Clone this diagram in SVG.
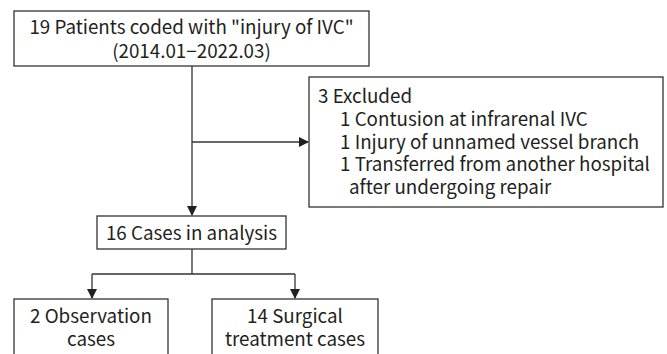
<svg xmlns="http://www.w3.org/2000/svg" width="667" height="354" viewBox="0 0 667 354">
<defs>
<style>
.box{fill:#fff;stroke:#333;stroke-width:1.3}
.ln{fill:none;stroke:#333;stroke-width:1.3}
text{font-family:"Noto Sans CJK KR","Noto Sans",sans-serif;font-size:18.8px;fill:#231f20}
.c{text-anchor:middle}
</style>
<marker id="ah" markerWidth="10" markerHeight="10" refX="9" refY="5" orient="auto" markerUnits="userSpaceOnUse">
<path d="M0,0 L10,5 L0,10 Z" fill="#231f20"/>
</marker>
</defs>
<rect width="667" height="354" fill="#fff"/>
<g id="connectors">
<path class="ln" d="M192,66 V215" marker-end="url(#ah)"/>
<path class="ln" d="M192,142 H308" marker-end="url(#ah)"/>
<path class="ln" d="M192,249 V274 M92,274 H295"/>
<path class="ln" d="M92,274 V298" marker-end="url(#ah)"/>
<path class="ln" d="M295,274 V298" marker-end="url(#ah)"/>
</g>
<g id="n1">
<rect class="box" x="14" y="11" width="355" height="55"/>
<text class="c" x="191.5" y="34">19 Patients coded with "injury of IVC"</text>
<text class="c" x="191.5" y="58">(2014.01−2022.03)</text>
</g>
<g id="n2">
<rect class="box" x="309" y="77" width="354" height="130"/>
<text x="318" y="103">3 Excluded</text>
<text x="340" y="126">1 Contusion at infrarenal IVC</text>
<text x="340" y="149">1 Injury of unnamed vessel branch</text>
<text x="340" y="171">1 Transferred from another hospital</text>
<text x="349" y="194">after undergoing repair</text>
</g>
<g id="n3">
<rect class="box" x="97" y="216" width="189" height="33"/>
<text class="c" x="191.5" y="240">16 Cases in analysis</text>
</g>
<g id="n4">
<rect class="box" x="14" y="299" width="154" height="60"/>
<text class="c" x="91" y="323">2 Observation</text>
<text class="c" x="91" y="346">cases</text>
</g>
<g id="n5">
<rect class="box" x="212" y="299" width="166" height="60"/>
<text class="c" x="295" y="323">14 Surgical</text>
<text class="c" x="295" y="346">treatment cases</text>
</g>
</svg>
